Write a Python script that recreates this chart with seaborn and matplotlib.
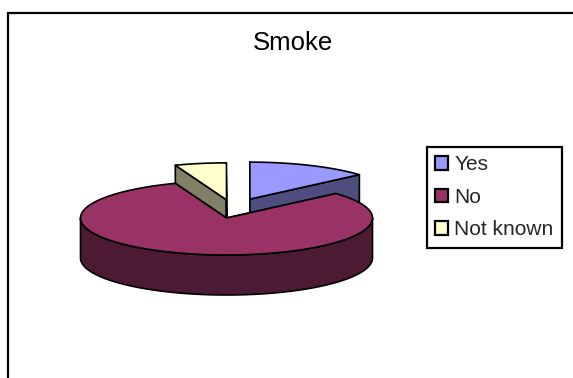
import numpy as np
import matplotlib
matplotlib.use("Agg")
import matplotlib.pyplot as plt
from matplotlib.patches import Polygon, Patch
import seaborn as sns

# data
labels = ["Yes", "No", "Not known"]
shares = [13.5, 80.8, 5.7]

# styles
top_colors = sns.color_palette(["#9999FF", "#993366", "#FFFFCC"])
side_colors = sns.color_palette(["#4D4D80", "#4D1A33", "#808066"])
# slice pull-out, as fractions of the horizontal / vertical radius
explode_x = [0.16, 0.0, 0.0]
explode_y = [0.51, 0.0, 0.49]

sns.set_theme(style="white")
plt.rcParams["font.family"] = ["Liberation Sans", "DejaVu Sans"]

W, H = 573, 378
fig = plt.figure(figsize=(W / 100, H / 100), dpi=100)
ax = fig.add_axes([0, 0, 1, 1])
ax.set_xlim(0, W)
ax.set_ylim(H, 0)
ax.axis("off")

# pie geometry (pixel space, 3D look)
cx, cy = 226.5, 218
rx, ry = 146, 37
depth = 40
lw = 1.2


def rim(phi, ox, oy, dz=0.0):
    p = np.radians(phi)
    return np.column_stack([cx + ox + rx * np.cos(p), cy + oy - ry * np.sin(p) + dz])


def front_parts(t2, t1):
    parts = []
    for k in range(-2, 3):
        a, b = max(t2, -180 + 360 * k), min(t1, 360 * k)
        if b > a:
            parts.append((a, b))
    return parts


def poly(pts, fc):
    ax.add_patch(Polygon(pts, closed=True, facecolor=fc, edgecolor="black",
                         linewidth=lw, joinstyle="round"))


total = sum(shares)
slices = []
start = 90.0
for i, s in enumerate(shares):
    t1 = start
    t2 = start - s / total * 360
    start = t2
    mid = np.radians((t1 + t2) / 2)
    ox = explode_x[i] * rx * np.sign(np.cos(mid))
    oy = -explode_y[i] * ry * np.sign(np.sin(mid))
    slices.append((i, t1, t2, ox, oy, np.sin(mid)))

# back slices first
for i, t1, t2, ox, oy, smid in sorted(slices, key=lambda r: -r[5]):
    c = np.array([[cx + ox, cy + oy]])
    # radial side faces
    for e in (t1, t2):
        r0 = rim([e], ox, oy)
        r1 = rim([e], ox, oy, depth)
        poly(np.vstack([c, r0, r1, c + [0, depth]]), side_colors[i])
    # outer wall (front half only)
    for a, b in front_parts(t2, t1):
        ph = np.linspace(a, b, 80)
        poly(np.vstack([rim(ph, ox, oy), rim(ph[::-1], ox, oy, depth)]), side_colors[i])
    # top face
    ph = np.linspace(t2, t1, 200)
    poly(np.vstack([c, rim(ph, ox, oy)]), top_colors[i])

# title
ax.text(293, 43, "Smoke", ha="center", va="center", fontsize=18.5, color="black")

# chart area border (top and left)
ax.plot([8, 8, W], [H + 5, 13, 13], color="black", linewidth=1.6,
        solid_joinstyle="miter", clip_on=False)

# legend
handles = [Patch(facecolor=top_colors[i], edgecolor="black", linewidth=1.6)
           for i in range(len(labels))]
leg = ax.legend(handles, labels, loc="upper left", bbox_to_anchor=(427, 147),
                bbox_transform=ax.transData, fontsize=15, frameon=True,
                fancybox=False, edgecolor="black", framealpha=1,
                borderpad=0.4, borderaxespad=0, handlelength=0.62,
                handleheight=0.62, handletextpad=0.3, labelspacing=0.65)
leg.get_frame().set_linewidth(1.6)

fig.savefig("out.png", dpi=100)
